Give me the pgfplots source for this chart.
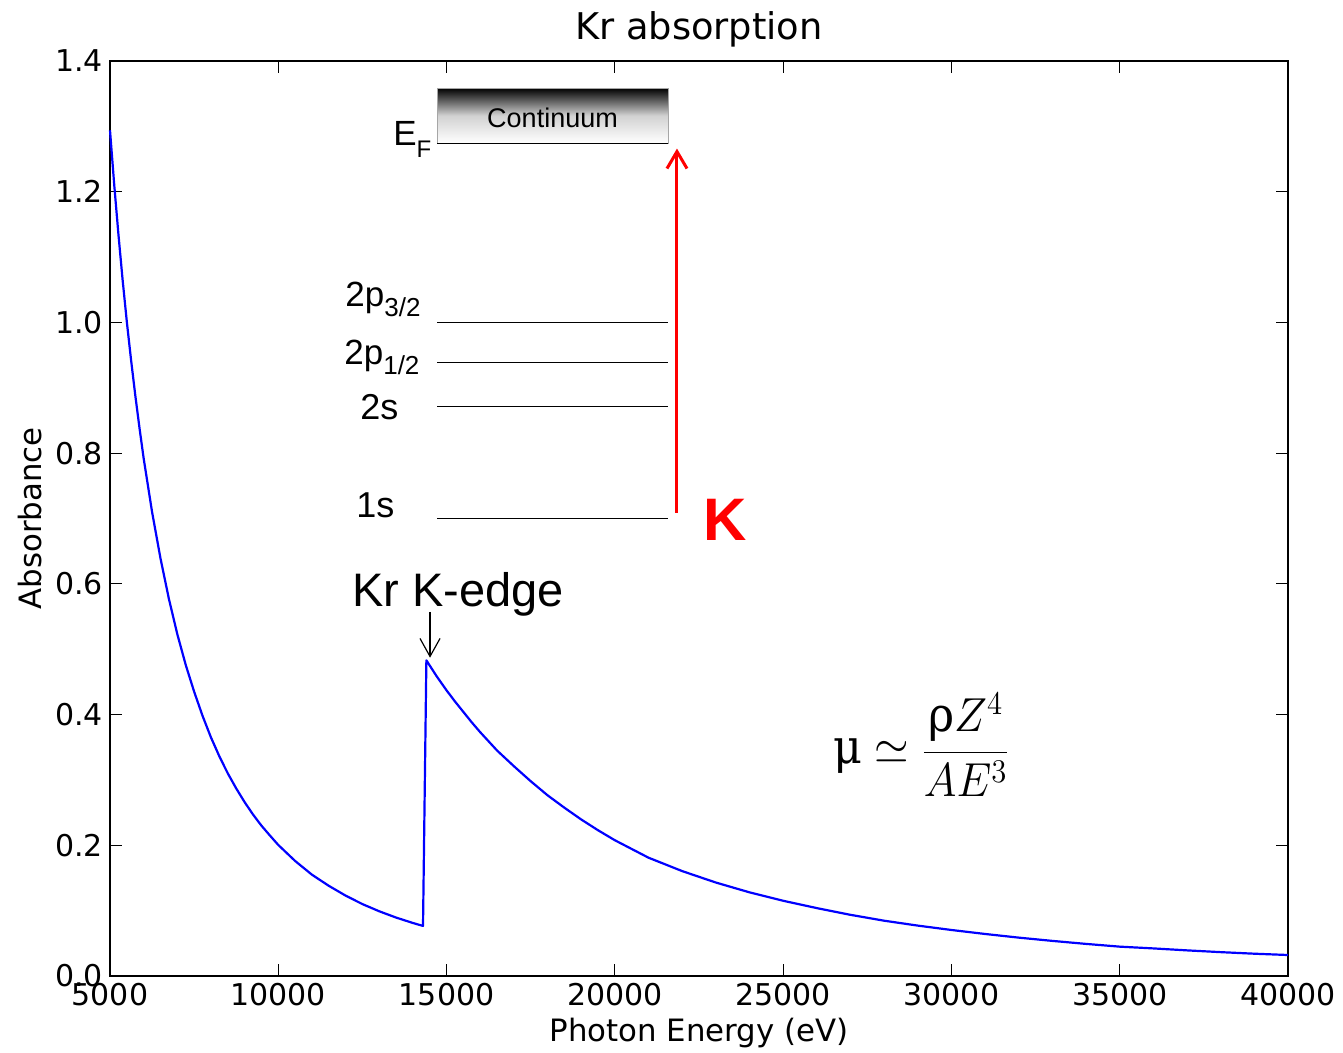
\documentclass[border=0pt]{standalone}
\usepackage{fontspec}
\setmainfont{DejaVu Sans}
\newfontfamily\arial{Liberation Sans}
\newfontfamily\dvserif{DejaVu Serif}
\usepackage{graphicx}
\usepackage{pgfplots}
\pgfplotsset{compat=1.18}
\usetikzlibrary{arrows.meta}

\begin{document}
\begin{tikzpicture}
\begin{axis}[
  name=ax,
  scale only axis,
  width=589pt, height=457.5pt,
  xmin=5000, xmax=40000, ymin=0, ymax=1.4,
  xtick={5000,10000,15000,20000,25000,30000,35000,40000},
  ytick={0,0.2,0.4,0.6,0.8,1.0,1.2,1.4},
  scaled x ticks=false,
  tick align=inside,
  major tick length=6pt,
  axis line style={line width=1pt},
  every tick/.style={black, line width=0.5pt},
  tick label style={font=\fontsize{15}{18}\selectfont},
  /pgf/number format/assume math mode=true,
  xticklabel style={/pgf/number format/1000 sep={}},
  yticklabel style={/pgf/number format/fixed, /pgf/number format/fixed zerofill, /pgf/number format/precision=1},
  clip=false,
]
% absorption below and above the K edge
\addplot[blue, line width=1.1pt, line join=round] coordinates {
  (5000,1.294) (5125,1.211) (5250,1.135) (5375,1.065) (5500,1.001)
  (5625,0.943) (5750,0.889) (5875,0.839) (6000,0.792) (6250,0.710)
  (6500,0.639) (6750,0.577) (7000,0.523) (7250,0.476) (7500,0.435)
  (7750,0.398) (8000,0.365) (8250,0.336) (8500,0.310) (8750,0.287)
  (9000,0.266) (9250,0.247) (9500,0.230) (9750,0.215) (10000,0.2005)
  (10500,0.176) (11000,0.155) (11500,0.138) (12000,0.123) (12500,0.110)
  (13000,0.099) (13500,0.0894) (14000,0.0811) (14300,0.0766)
  (14400,0.483) (14550,0.471) (14700,0.459) (14850,0.448) (15000,0.437)
  (15250,0.420) (15500,0.404) (15750,0.388) (16000,0.373) (16500,0.345)
  (17000,0.321) (17500,0.298) (18000,0.2765) (18500,0.2575) (19000,0.2395)
  (19500,0.223) (20000,0.2077) (21000,0.181) (22000,0.1605) (23000,0.143)
  (24000,0.128) (25000,0.1151) (26000,0.1039) (27000,0.0936) (28000,0.0846)
  (29000,0.0771) (30000,0.0704) (31000,0.0643) (32000,0.0587) (33000,0.0537)
  (34000,0.0491) (35000,0.0449) (36000,0.0422) (37000,0.0392) (38000,0.0365)
  (39000,0.0341) (40000,0.0321)
};

% energy-level diagram
\shade[top color=black, bottom color=white, middle color=black!18]
  (axis cs:14716,1.2745) rectangle (axis cs:21579,1.3586);
\draw[gray!70, line width=0.4pt] (axis cs:14716,1.2745) rectangle (axis cs:21579,1.3586);
\draw[black, line width=0.6pt] (axis cs:14716,1.2735) -- (axis cs:21579,1.2735);
\node[font=\arial\fontsize{13.5}{16}\selectfont] at (axis cs:18148,1.313) {Continuum};

\draw[line width=0.5pt] (axis cs:14716,1.0006) -- (axis cs:21579,1.0006);
\draw[line width=0.5pt] (axis cs:14716,0.9394) -- (axis cs:21579,0.9394);
\draw[line width=0.5pt] (axis cs:14716,0.8706) -- (axis cs:21579,0.8706);
\draw[line width=0.5pt] (axis cs:14716,0.7007) -- (axis cs:21579,0.7007);

\node[anchor=base west, inner sep=0, font=\arial\fontsize{17.5}{20}\selectfont]
  at (axis cs:13408,1.2714) {E\raisebox{-6pt}{\fontsize{12}{13}\selectfont F}};
\node[anchor=base west, inner sep=0, font=\arial\fontsize{17.5}{20}\selectfont]
  at (axis cs:11982,1.025) {2p\raisebox{-5pt}{\fontsize{13}{14}\selectfont 3/2}};
\node[anchor=base west, inner sep=0, font=\arial\fontsize{17.5}{20}\selectfont]
  at (axis cs:11952,0.936) {2p\raisebox{-5pt}{\fontsize{13}{14}\selectfont 1/2}};
\node[anchor=base west, inner sep=0, font=\arial\fontsize{18}{20}\selectfont]
  at (axis cs:12428,0.852) {2s};
\node[anchor=base west, inner sep=0, font=\arial\fontsize{18}{20}\selectfont]
  at (axis cs:12309,0.702) {1s};

% K transition
\draw[red, line width=1.5pt, -{Straight Barb[length=8.5pt, width=10pt]}]
  (axis cs:21846,0.7084) -- (axis cs:21846,1.266);
\node[anchor=base west, inner sep=0, text=red, font=\arial\bfseries\fontsize{30}{32}\selectfont]
  at (axis cs:22619,0.667) {K};

% edge annotation
\node[anchor=base west, inner sep=0, font=\arial\fontsize{23.5}{26}\selectfont]
  at (axis cs:12190,0.5646) {Kr K-edge};
\draw[black, line width=0.6pt, -{Straight Barb[length=9pt, width=10pt]}]
  (axis cs:14508,0.557) -- (axis cs:14508,0.487);

% photoabsorption scaling
\node[anchor=base west, inner sep=0, font=\fontsize{20.74}{26}\selectfont]
  at (axis cs:26481,0.3244)
  {\scalebox{1.07}[1.15]{$\mbox{\dvserif μ}\simeq\displaystyle\frac{\mbox{\dvserif ρ}Z^{4}}{AE^{3}}$}};
\end{axis}

\node[font=\fontsize{18.4}{22}\selectfont, anchor=base] at ([yshift=10.5pt]ax.north) {Kr absorption};
\node[font=\fontsize{15.4}{18}\selectfont, anchor=base] at ([yshift=-33pt]ax.south) {Photon Energy (eV)};
\node[font=\fontsize{15.4}{18}\selectfont, rotate=90, anchor=base] at ([xshift=-34pt]ax.west) {Absorbance};

\pgfresetboundingbox
\path[use as bounding box] ([shift={(-55pt,-38.5pt)}]ax.south west) rectangle ([shift={(27.5pt,30.5pt)}]ax.north east);
\end{tikzpicture}
\end{document}
